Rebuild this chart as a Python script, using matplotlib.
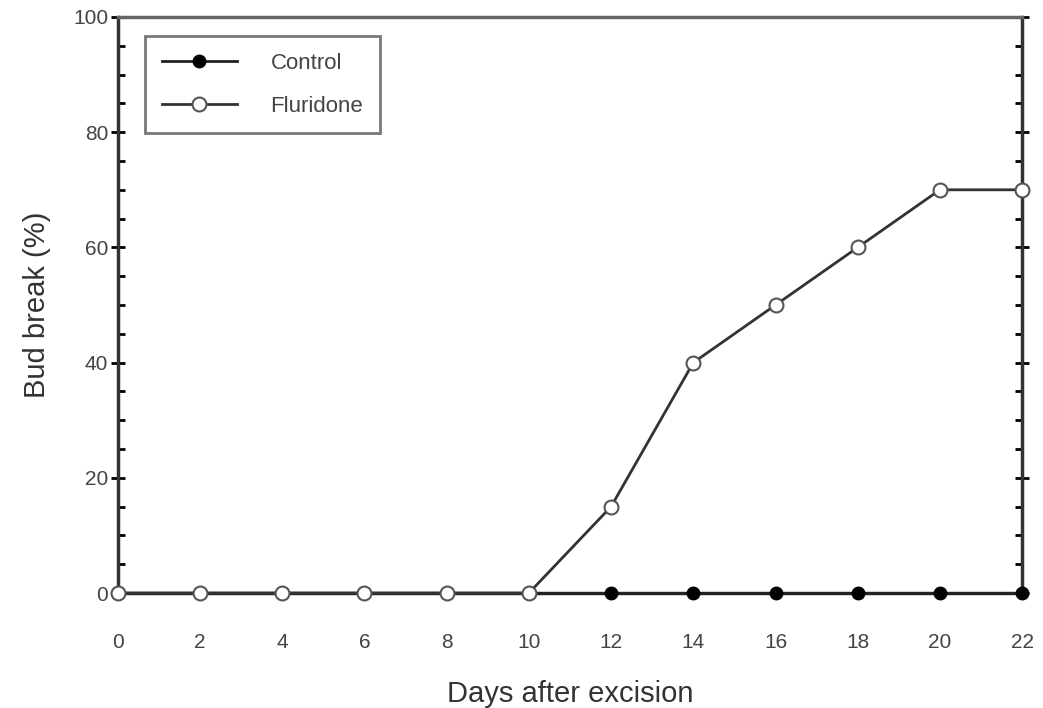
import matplotlib
matplotlib.use("Agg")
import matplotlib.pyplot as plt
from matplotlib.ticker import MultipleLocator

days = [0, 2, 4, 6, 8, 10, 12, 14, 16, 18, 20, 22]
control = [0, 0, 0, 0, 0, 0, 0, 0, 0, 0, 0, 0]
fluridone = [0, 0, 0, 0, 0, 0, 15, 40, 50, 60, 70, 70]

plt.rcParams["font.family"] = ["Liberation Sans", "DejaVu Sans"]

fig = plt.figure(figsize=(10.43, 7.08), dpi=100)
ax = fig.add_axes([0.113, 0.1624, 0.867, 0.8136])

ax.plot(days, control, color="#222222", linewidth=2, marker="o", markersize=9,
        markerfacecolor="black", markeredgecolor="black", label="Control",
        zorder=3, clip_on=False)
ax.plot(days, fluridone, color="#333333", linewidth=2, marker="o", markersize=10,
        markerfacecolor="white", markeredgecolor="#555555", markeredgewidth=1.5,
        label="Fluridone", zorder=4, clip_on=False)

ax.set_xlim(0, 22)
ax.set_ylim(0, 100)
ax.set_xticks(days)
ax.set_yticks(range(0, 101, 20))
ax.yaxis.set_minor_locator(MultipleLocator(5))

ax.tick_params(axis="x", length=0, pad=29, labelsize=15, colors="#444444")
ax.tick_params(axis="y", which="major", direction="inout", length=10, width=2,
               left=True, right=True, labelsize=15, labelcolor="#444444", pad=2)
ax.tick_params(axis="y", which="minor", direction="in", length=5, width=2,
               left=True, right=True)

for side in ["left", "right", "top", "bottom"]:
    ax.spines[side].set_linewidth(2.5)
    ax.spines[side].set_color("#333333")
ax.spines["top"].set_color("#666666")

ax.set_xlabel("Days after excision", fontsize=21, color="#333333", labelpad=20)
ax.set_ylabel("Bud break (%)", fontsize=21, color="#333333", labelpad=16)

leg = ax.legend(loc="upper left", bbox_to_anchor=(0.025, 0.975), fontsize=16,
                frameon=True, fancybox=False, edgecolor="#555555",
                handlelength=3.4, handletextpad=1.5, borderpad=0.75,
                labelspacing=1.0, borderaxespad=0.2)
leg.get_frame().set_linewidth(2)
for t in leg.get_texts():
    t.set_color("#444444")

fig.savefig("out.png", dpi=100)
